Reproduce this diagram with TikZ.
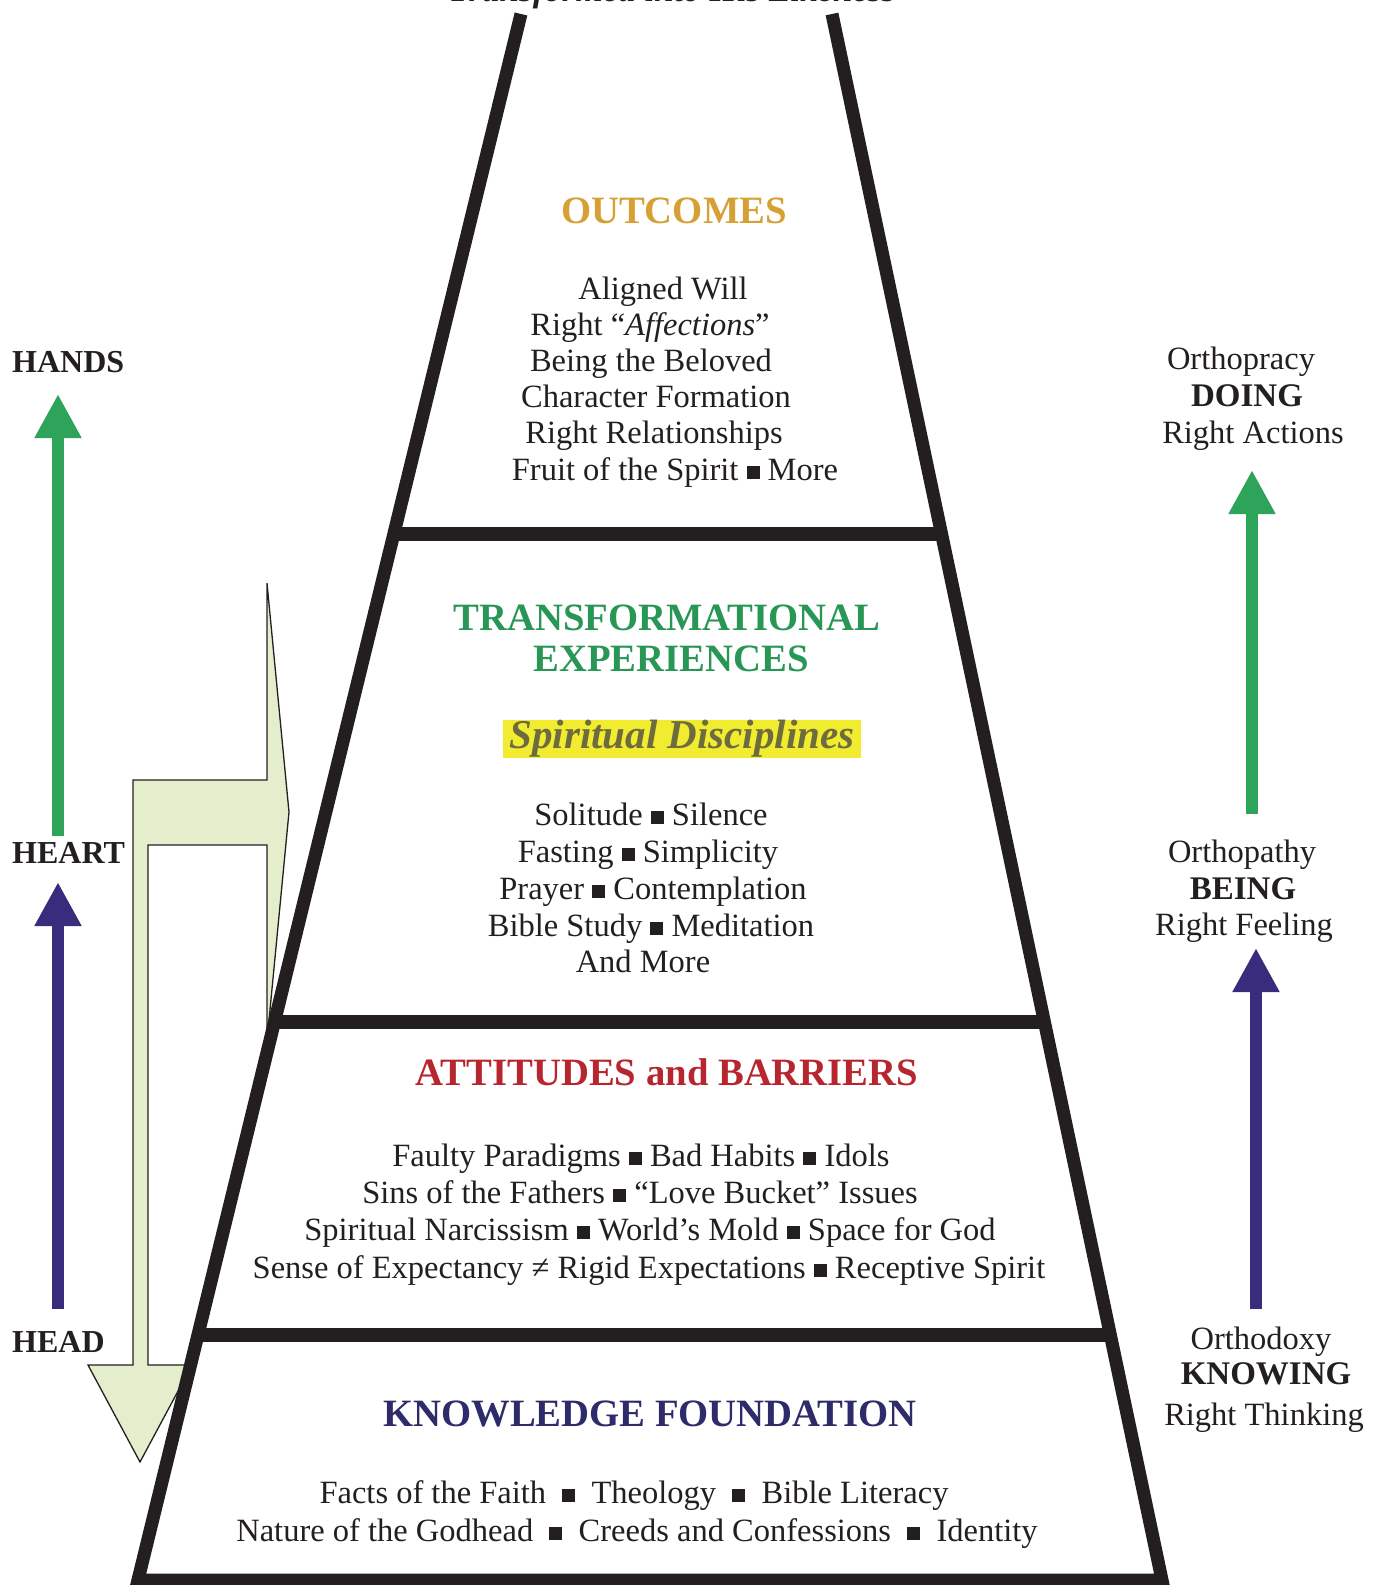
\documentclass[tikz,border=0pt]{standalone}
\usepackage{fontspec}
\setmainfont{Liberation Serif}
\usetikzlibrary{arrows.meta,calc}
\definecolor{ink}{RGB}{35,31,32}
\definecolor{gold}{RGB}{214,160,52}
\definecolor{tgreen}{RGB}{40,150,85}
\definecolor{tred}{RGB}{183,38,46}
\definecolor{navy}{RGB}{46,43,107}
\definecolor{agreen}{RGB}{46,163,90}
\definecolor{apurple}{RGB}{58,44,125}
\definecolor{pale}{RGB}{229,238,204}
\definecolor{hl}{RGB}{242,236,48}
\definecolor{olive}{RGB}{110,108,62}
\newcommand{\sqb}{\raisebox{0.04em}{\rule{0.4em}{0.4em}}}
\newcommand{\ksq}{\hspace{0.25em}\sqb\hspace{0.25em}}
\begin{document}
\begin{tikzpicture}[x=1pt,y=-1pt,
  body/.style={font=\fontsize{32.5}{36}\selectfont, text=ink, anchor=base, inner sep=0pt},
  hdr/.style={font=\fontsize{38.7}{40}\selectfont\bfseries, anchor=base, inner sep=0pt},
  side/.style={font=\fontsize{32}{36}\selectfont\bfseries, text=ink, anchor=base west, inner sep=0pt},
  rlab/.style={font=\fontsize{32.5}{36}\selectfont, text=ink, anchor=base, inner sep=0pt},
  rlabb/.style={font=\fontsize{33}{36}\selectfont\bfseries, text=ink, anchor=base, inner sep=0pt},
  wall/.style={line width=13pt, draw=ink},
  divider/.style={line width=14pt, draw=ink},
  uparrow/.style={line width=12pt, -{Triangle[length=44pt,width=44pt]}},
]
\useasboundingbox (0,0) rectangle (1380,1585);

% pale bent arrow
\draw[line width=1.3pt, draw=ink, fill=pale]
  (133,780) -- (267,780) -- (267,583) -- (289,812) -- (267,1041) -- (267,845)
  -- (148,845) -- (148,1365) -- (192,1365) -- (140,1462) -- (88,1365)
  -- (133,1365) -- cycle;

% pyramid
\coordinate (L1) at (521,14);
\coordinate (L2) at (138,1580);
\coordinate (R1) at (832,14);
\coordinate (R2) at (1162,1580);
\draw[wall, line join=miter] (L1) -- (L2) -- (R2) -- (R1);
\draw[divider] ($(L1)!0.3323!(L2)$) -- ($(R1)!0.3323!(R2)$);
\draw[divider] ($(L1)!0.6435!(L2)$) -- ($(R1)!0.6435!(R2)$);
\draw[divider] ($(L1)!0.8438!(L2)$) -- ($(R1)!0.8438!(R2)$);

% title (cut by the page edge, as in the reference)
\node[font=\fontsize{35}{40}\selectfont\bfseries\itshape, text=ink, anchor=base, inner sep=0pt] (title) at (672,1.5) {Transformed into His Likeness};

% outcomes
\node[hdr, text=gold] (outc) at (674,223.5) {OUTCOMES};
\node[body] (o1) at (663,299) {Aligned Will};
\node[body] (o2) at (650,335.2) {Right “\textit{Affections}”};
\node[body] (o3) at (651,371.4) {Being the Beloved};
\node[body] (o4) at (656,407.6) {Character Formation};
\node[body] (o5) at (654,443.8) {Right Relationships};
\node[body] (o6) at (675,480) {Fruit of the Spirit \sqb{} More};

% transformational
\node[hdr, text=tgreen] (tr1) at (667,630.5) {TRANSFORMATIONAL};
\node[hdr, text=tgreen] (tr2) at (671,671.5) {EXPERIENCES};
\node[fill=hl, minimum width=358pt, minimum height=38pt, inner sep=0pt, text=olive,
  font=\fontsize{41}{42}\selectfont\bfseries\itshape] (sd) at (682,739) {Spiritual Disciplines};
\node[body] (t1) at (651,825) {Solitude \sqb{} Silence};
\node[body] (t2) at (648,862) {Fasting \sqb{} Simplicity};
\node[body] (t3) at (653,899) {Prayer \sqb{} Contemplation};
\node[body] (t4) at (651,936) {Bible Study \sqb{} Meditation};
\node[body] (t5) at (643,972) {And More};

% attitudes
\node[hdr, text=tred] (att) at (667,1085.5) {ATTITUDES and BARRIERS};
\node[body] (a1) at (641,1166) {Faulty Paradigms \sqb{} Bad Habits \sqb{} Idols};
\node[body] (a2) at (640,1203) {Sins of the Fathers \sqb{} “Love Bucket” Issues};
\node[body] (a3) at (650,1240) {Spiritual Narcissism \sqb{} World’s Mold \sqb{} Space for God};
\node[body] (a4) at (649,1278) {Sense of Expectancy ≠ Rigid Expectations \sqb{} Receptive Spirit};

% knowledge
\node[hdr, text=navy] (kf) at (650,1426.5) {KNOWLEDGE FOUNDATION};
\node[body] (k1) at (634,1503) {Facts of the Faith \ksq{} Theology \ksq{} Bible Literacy};
\node[body] (k2) at (637,1541) {Nature of the Godhead \ksq{} Creeds and Confessions \ksq{} Identity};

% left labels
\node[side] (hands) at (12,372) {HANDS};
\node[side] (heart) at (12,863) {HEART};
\node[side] (headl) at (12,1352) {HEAD};

% left arrows
\coordinate (g1s) at (58,836);
\coordinate (g1e) at (58,394);
\coordinate (p1s) at (58,1309);
\coordinate (p1e) at (58,882);
\draw[uparrow, agreen] (g1s) -- (g1e);
\draw[uparrow, apurple] (p1s) -- (p1e);

% right labels
\node[rlab] (r1) at (1241,369) {Orthopracy};
\node[rlabb] (r2) at (1247,406) {DOING};
\node[rlab] (r3) at (1253,443) {Right Actions};
\node[rlab] (r4) at (1242,862) {Orthopathy};
\node[rlabb] (r5) at (1243,899) {BEING};
\node[rlab] (r6) at (1244,935) {Right Feeling};
\node[rlab] (r7) at (1261,1349) {Orthodoxy};
\node[rlabb] (r8) at (1266,1384) {KNOWING};
\node[rlab] (r9) at (1264,1425) {Right Thinking};

% right arrows
\coordinate (g2s) at (1252,814);
\coordinate (g2e) at (1252,470);
\coordinate (p2s) at (1256,1309);
\coordinate (p2e) at (1256,948);
\draw[uparrow, agreen] (g2s) -- (g2e);
\draw[uparrow, apurple] (p2s) -- (p2e);
\end{tikzpicture}
\end{document}
